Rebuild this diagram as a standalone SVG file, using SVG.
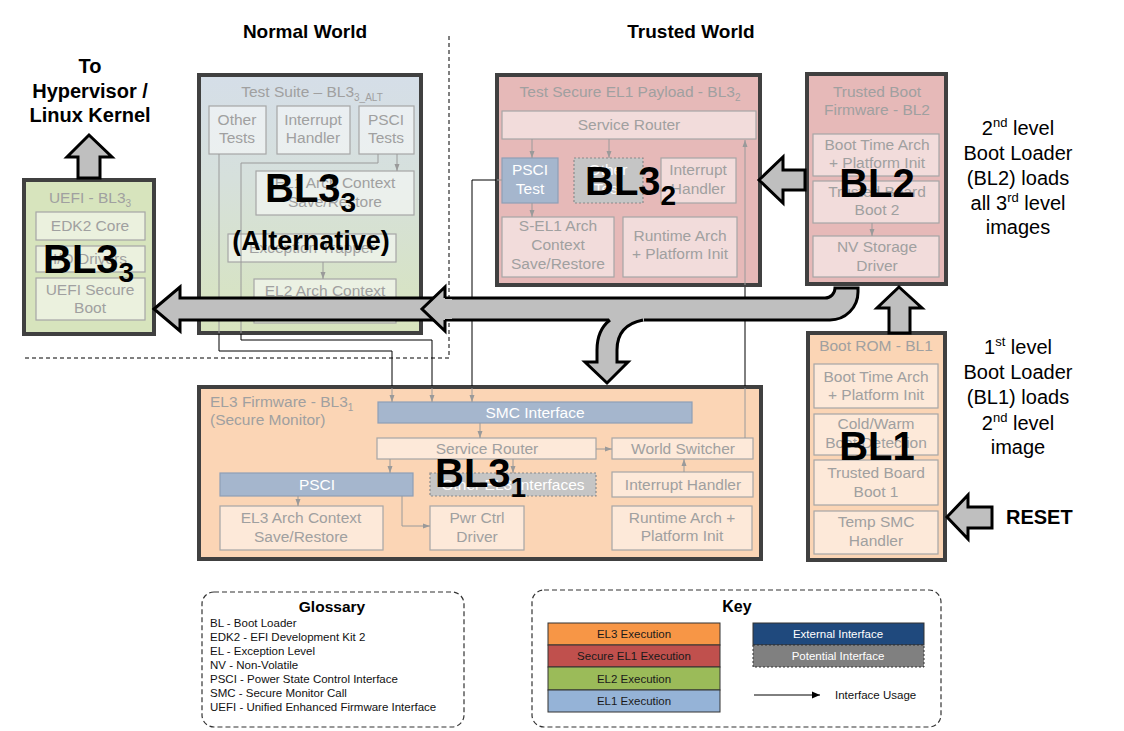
<svg xmlns="http://www.w3.org/2000/svg" width="1124" height="731" viewBox="0 0 1124 731">
<defs>
<style>
text{font-family:"Liberation Sans",Arial,Helvetica,sans-serif}
.o{stroke:#404040;stroke-width:4}
.i{stroke:#a6a6a6;stroke-width:1.2}
.pk{fill:#f2dcdb}
.pc{fill:#fde9d9}
.gn{fill:#ebf1de}
.ts{fill:#fff;fill-opacity:.5}
.bx{fill:#a5b6cd;stroke:#8e9fb6;stroke-width:1.2}
.dt{fill:#c5c5c5;stroke:#8a8a8a;stroke-width:1.2;stroke-dasharray:2 2}
.t{font-size:15.5px;fill:#a0a0a0;text-anchor:middle}
.w{fill:#fff}
.big{font-size:40px;font-weight:bold;fill:#000}
.gl{fill:none;stroke:#9a9a9a;stroke-width:1}
.bl{fill:none;stroke:#000;stroke-width:1}
.fa{fill:#bfbfbf;stroke:#000;stroke-width:3;stroke-linejoin:miter}
.hd{font-size:20px;font-weight:bold;fill:#000;text-anchor:middle}
.sd{font-size:20px;fill:#000;text-anchor:middle}
.sm{font-size:11.5px;fill:#111}
.kt{font-size:11.5px;fill:#1a1a1a;text-anchor:middle}
.dash{fill:none;stroke:#333;stroke-width:1.2;stroke-dasharray:5 3}
</style>
<linearGradient id="tsg" x1="0" y1="0" x2="0" y2="1">
<stop offset="0" stop-color="#d5dee8"/>
<stop offset="0.4" stop-color="#d6e0dc"/>
<stop offset="1" stop-color="#d7e4bd"/>
</linearGradient>
<marker id="ag" viewBox="0 0 7 6" refX="7" refY="3" markerWidth="7" markerHeight="6" orient="auto" markerUnits="userSpaceOnUse">
<path d="M0,0.5 L7,3 L0,5.5 Z" fill="#9a9a9a"/>
</marker>
<marker id="ab" viewBox="0 0 8 8" refX="8" refY="4" markerWidth="8" markerHeight="8" orient="auto" markerUnits="userSpaceOnUse">
<path d="M0,0.5 L8,4 L0,7.5 Z" fill="#000"/>
</marker>
</defs>
<rect width="1124" height="731" fill="#fff"/>

<!-- world separator -->
<g id="separator">
<path d="M449 36 V358 H22" fill="none" stroke="#000" stroke-width="1" stroke-dasharray="4 3"/>
<text x="305" y="38" font-size="19" font-weight="bold" text-anchor="middle">Normal World</text>
<text x="691" y="38" font-size="19" font-weight="bold" text-anchor="middle">Trusted World</text>
</g>

<!-- UEFI BL3_3 -->
<g id="uefi">
<rect x="24" y="180" width="130" height="154" fill="#d7e4bd" class="o"/>
<text class="t" x="90" y="203">UEFI - BL3<tspan font-size="10" dy="4">3</tspan></text>
<rect x="36" y="212" width="109" height="28" class="gn i"/>
<rect x="36" y="246" width="109" height="26" class="gn i"/>
<rect x="36" y="278" width="109" height="42" class="gn i"/>
<text class="t" x="90" y="231">EDK2 Core</text>
<text class="t" x="90" y="264">I/O Drivers</text>
<text class="t" x="90" y="295">UEFI Secure</text>
<text class="t" x="90" y="313">Boot</text>
<text class="big" x="43" y="273">BL3<tspan font-size="28" dy="9">3</tspan></text>
</g>

<!-- Test Suite BL3_3 ALT -->
<g id="testsuite">
<rect x="199" y="75" width="222" height="258" fill="url(#tsg)" class="o"/>
<text class="t" x="312" y="97">Test Suite – BL3<tspan font-size="10" dy="4">3_ALT</tspan></text>
<rect x="209" y="106" width="57" height="48" class="ts i"/>
<rect x="277" y="106" width="73" height="48" class="ts i"/>
<rect x="359" y="106" width="55" height="48" class="ts i"/>
<rect x="256" y="171" width="158" height="44" class="ts i"/>
<rect x="228" y="234" width="168" height="28" class="ts i"/>
<rect x="254" y="279" width="142" height="44" class="ts i"/>
<text class="t" x="237" y="125">Other</text>
<text class="t" x="237" y="143">Tests</text>
<text class="t" x="313" y="125">Interrupt</text>
<text class="t" x="313" y="143">Handler</text>
<text class="t" x="386" y="125">PSCI</text>
<text class="t" x="386" y="143">Tests</text>
<text class="t" x="335" y="188">EL1 Arch Context</text>
<text class="t" x="335" y="207">Save/Restore</text>
<text class="t" x="312" y="253">Exception Trapper</text>
<text class="t" x="325" y="296">EL2 Arch Context</text>
<text class="big" x="265" y="202">BL3<tspan font-size="28" dy="10">3</tspan></text>
<text x="311" y="250" font-size="27" font-weight="bold" text-anchor="middle">(Alternative)</text>
</g>

<!-- Test Secure EL1 Payload BL3_2 -->
<g id="bl32">
<rect x="497" y="75" width="263" height="210" fill="#e6b9b8" class="o"/>
<text class="t" x="630" y="97">Test Secure EL1 Payload - BL3<tspan font-size="10" dy="4">2</tspan></text>
<rect x="502" y="111" width="254" height="28" class="pk i"/>
<text class="t" x="629" y="130">Service Router</text>
<rect x="502" y="158" width="56" height="45" class="bx"/>
<text class="t w" x="530" y="175">PSCI</text>
<text class="t w" x="530" y="194">Test</text>
<rect x="574" y="158" width="69" height="45" class="dt"/>
<text class="t w" x="608" y="175">Other</text>
<text class="t w" x="608" y="194">Test</text>
<rect x="661" y="158" width="75" height="45" class="pk i"/>
<text class="t" x="698" y="175">Interrupt</text>
<text class="t" x="698" y="194">Handler</text>
<rect x="502" y="217" width="112" height="60" class="pk i"/>
<text class="t" x="558" y="231">S-EL1 Arch</text>
<text class="t" x="558" y="250">Context</text>
<text class="t" x="558" y="269">Save/Restore</text>
<rect x="623" y="217" width="114" height="60" class="pk i"/>
<text class="t" x="680" y="241">Runtime Arch</text>
<text class="t" x="680" y="259">+ Platform Init</text>
<text class="big" x="585" y="195">BL3<tspan font-size="28" dy="10">2</tspan></text>
</g>

<!-- Trusted Boot Firmware BL2 -->
<g id="bl2">
<rect x="807" y="74" width="139" height="210" fill="#e6b9b8" class="o"/>
<text class="t" x="877" y="97">Trusted Boot</text>
<text class="t" x="877" y="115">Firmware - BL2</text>
<rect x="813" y="134" width="126" height="42" class="pk i"/>
<rect x="813" y="181" width="126" height="42" class="pk i"/>
<rect x="813" y="236" width="126" height="41" class="pk i"/>
<text class="t" x="877" y="150">Boot Time Arch</text>
<text class="t" x="877" y="168">+ Platform Init</text>
<text class="t" x="877" y="197">Trusted Board</text>
<text class="t" x="877" y="215">Boot 2</text>
<text class="t" x="877" y="252">NV Storage</text>
<text class="t" x="877" y="271">Driver</text>
<text class="big" x="877" y="197" text-anchor="middle">BL2</text>
</g>

<!-- Boot ROM BL1 -->
<g id="bl1">
<rect x="808" y="333" width="137" height="227" fill="#fbd5b5" class="o"/>
<text class="t" x="876" y="351">Boot ROM - BL1</text>
<rect x="814" y="364" width="124" height="44" class="pc i"/>
<rect x="814" y="414" width="124" height="41" class="pc i"/>
<rect x="814" y="460" width="124" height="45" class="pc i"/>
<rect x="814" y="511" width="124" height="43" class="pc i"/>
<text class="t" x="876" y="382">Boot Time Arch</text>
<text class="t" x="876" y="400">+ Platform Init</text>
<text class="t" x="876" y="429">Cold/Warm</text>
<text class="t" x="876" y="448">Boot Detection</text>
<text class="t" x="876" y="478">Trusted Board</text>
<text class="t" x="876" y="497">Boot 1</text>
<text class="t" x="876" y="527">Temp SMC</text>
<text class="t" x="876" y="546">Handler</text>
<text class="big" x="877" y="460" text-anchor="middle">BL1</text>
</g>

<!-- EL3 Firmware BL3_1 -->
<g id="bl31">
<rect x="199" y="387" width="562" height="172" fill="#fbd5b5" class="o"/>
<text class="t" x="210" y="407" text-anchor="start" style="text-anchor:start">EL3 Firmware - BL3<tspan font-size="10" dy="4">1</tspan></text>
<text class="t" x="210" y="425" style="text-anchor:start">(Secure Monitor)</text>
<rect x="378" y="402" width="314" height="21" class="bx"/>
<text class="t w" x="535" y="418">SMC Interface</text>
<rect x="377" y="438" width="219" height="21" class="pc i"/>
<text class="t" x="487" y="454">Service Router</text>
<rect x="612" y="438" width="141" height="21" class="pc i"/>
<text class="t" x="683" y="454">World Switcher</text>
<rect x="220" y="473" width="193" height="23" class="bx"/>
<text class="t w" x="317" y="490">PSCI</text>
<rect x="430" y="473" width="166" height="23" class="dt"/>
<text class="t w" x="513" y="490">Other EL3 Interfaces</text>
<rect x="612" y="472" width="141" height="25" class="pc i"/>
<text class="t" x="683" y="490">Interrupt Handler</text>
<rect x="220" y="506" width="163" height="44" class="pc i"/>
<text class="t" x="301" y="523">EL3 Arch Context</text>
<text class="t" x="301" y="542">Save/Restore</text>
<rect x="430" y="506" width="94" height="44" class="pc i"/>
<text class="t" x="477" y="523">Pwr Ctrl</text>
<text class="t" x="477" y="542">Driver</text>
<rect x="612" y="506" width="140" height="44" class="pc i"/>
<text class="t" x="682" y="523">Runtime Arch +</text>
<text class="t" x="682" y="541">Platform Init</text>
<text class="big" x="435" y="487">BL3<tspan font-size="28" dy="10">1</tspan></text>
</g>

<!-- connectors -->
<g id="connectors">
<polyline class="bl" points="219,334 219,351 392,351 392,386"/>
<polyline class="bl" points="241,334 241,340 432,340 432,386"/>
<polyline class="bl" points="496,180 472,180 472,386"/>
<line class="bl" x1="745" y1="287" x2="745" y2="386"/>
<line class="gl" x1="219" y1="154" x2="219" y2="333"/>
<polyline class="gl" points="378,154 378,163 241,163 241,333"/>
<line class="gl" x1="397" y1="154" x2="397" y2="171" marker-end="url(#ag)"/>
<line class="gl" x1="323" y1="262" x2="323" y2="279" marker-end="url(#ag)"/>
<line class="gl" x1="502" y1="180" x2="497" y2="180"/>
<line class="gl" x1="532" y1="139" x2="532" y2="158" marker-end="url(#ag)"/>
<line class="gl" x1="609" y1="139" x2="609" y2="158" marker-end="url(#ag)"/>
<line class="gl" x1="532" y1="203" x2="532" y2="217" marker-end="url(#ag)"/>
<line class="gl" x1="745" y1="285" x2="745" y2="140" marker-end="url(#ag)"/>
<line class="gl" x1="872" y1="223" x2="872" y2="236" marker-end="url(#ag)"/>
<line class="gl" x1="392" y1="388" x2="392" y2="402" marker-end="url(#ag)"/>
<line class="gl" x1="432" y1="388" x2="432" y2="402" marker-end="url(#ag)"/>
<line class="gl" x1="472" y1="388" x2="472" y2="402" marker-end="url(#ag)"/>
<line class="gl" x1="745" y1="438" x2="745" y2="388"/>
<line class="gl" x1="480" y1="423" x2="480" y2="438" marker-end="url(#ag)"/>
<line class="gl" x1="596" y1="449" x2="612" y2="449" marker-end="url(#ag)"/>
<line class="gl" x1="390" y1="459" x2="390" y2="473" marker-end="url(#ag)"/>
<line class="gl" x1="513" y1="459" x2="513" y2="473" marker-end="url(#ag)"/>
<line class="gl" x1="684" y1="472" x2="684" y2="459" marker-end="url(#ag)"/>
<line class="gl" x1="298" y1="496" x2="298" y2="506" marker-end="url(#ag)"/>
<polyline class="gl" points="402,496 402,526 430,526" marker-end="url(#ag)"/>
</g>

<!-- block flow arrows -->
<g id="flow-arrows">
<path class="fa" d="M154 309 L180 287 L180 298 L825 298 A10 10 0 0 0 835 288 L858 288 L858 292 A28 28 0 0 1 830 320 L180 320 L180 331 Z"/>
<path d="M422 309 L445 287 L445 331 Z M445 299 H452 V319 H445 Z" fill="#bfbfbf"/>
<polyline points="445,298 445,287 422,309 445,331 445,320" fill="none" stroke="#000" stroke-width="3"/>
<path d="M610 319 Q597 330 597 350 L597 362 L585 362 L607 383 L628 362 L617 362 L617 350 Q617 325 643 319 Z" fill="#bfbfbf"/>
<rect x="609" y="316" width="35" height="6" fill="#bfbfbf"/>
<path d="M610 320 Q597 330 597 350 L597 362 L585 362 L607 383 L628 362 L617 362 L617 350 Q617 325 643 320" fill="none" stroke="#000" stroke-width="3"/>
<path class="fa" d="M759 180 L783 157 L783 170 L805 170 L805 190 L783 190 L783 203 Z"/>
<path class="fa" d="M899 287 L922 308 L910 308 L910 333 L889 333 L889 308 L877 308 Z"/>
<path class="fa" d="M89 135 L112 157 L100 157 L100 178 L78 178 L78 157 L67 157 Z"/>
<path class="fa" d="M947 517 L968 495 L968 507 L992 507 L992 528 L968 528 L968 539 Z"/>
</g>

<!-- annotations -->
<g id="annotations">
<text class="hd" x="90" y="73">To</text>
<text class="hd" x="90" y="98">Hypervisor /</text>
<text class="hd" x="90" y="122">Linux Kernel</text>
<text class="sd" x="1018" y="135">2<tspan font-size="13" dy="-8">nd</tspan><tspan dy="8"> level</tspan></text>
<text class="sd" x="1018" y="160">Boot Loader</text>
<text class="sd" x="1018" y="185">(BL2) loads</text>
<text class="sd" x="1018" y="210">all 3<tspan font-size="13" dy="-8">rd</tspan><tspan dy="8"> level</tspan></text>
<text class="sd" x="1018" y="234">images</text>
<text class="sd" x="1018" y="354">1<tspan font-size="13" dy="-8">st</tspan><tspan dy="8"> level</tspan></text>
<text class="sd" x="1018" y="379">Boot Loader</text>
<text class="sd" x="1018" y="404">(BL1) loads</text>
<text class="sd" x="1018" y="430">2<tspan font-size="13" dy="-8">nd</tspan><tspan dy="8"> level</tspan></text>
<text class="sd" x="1018" y="454">image</text>
<text x="1006" y="524" font-size="20" font-weight="bold">RESET</text>
</g>

<!-- glossary -->
<g id="glossary">
<rect x="202" y="592" width="262" height="135" rx="12" class="dash"/>
<text x="332" y="612" font-size="15.5" font-weight="bold" text-anchor="middle">Glossary</text>
<text class="sm" x="210" y="627">BL - Boot Loader</text>
<text class="sm" x="210" y="641">EDK2 - EFI Development Kit 2</text>
<text class="sm" x="210" y="655">EL - Exception Level</text>
<text class="sm" x="210" y="669">NV - Non-Volatile</text>
<text class="sm" x="210" y="683">PSCI - Power State Control Interface</text>
<text class="sm" x="210" y="697">SMC - Secure Monitor Call</text>
<text class="sm" x="210" y="711">UEFI - Unified Enhanced Firmware Interface</text>
</g>

<!-- key -->
<g id="key">
<rect x="532" y="590" width="409" height="137" rx="12" class="dash"/>
<text x="737" y="612" font-size="16" font-weight="bold" text-anchor="middle">Key</text>
<rect x="548" y="623" width="172" height="22" fill="#f79646" stroke="#333" stroke-width="1"/>
<rect x="548" y="645" width="172" height="22" fill="#c0504d" stroke="#333" stroke-width="1"/>
<rect x="548" y="667" width="172" height="23" fill="#9bbb59" stroke="#333" stroke-width="1"/>
<rect x="548" y="690" width="172" height="22" fill="#95b3d7" stroke="#333" stroke-width="1"/>
<text class="kt" x="634" y="638">EL3 Execution</text>
<text class="kt" x="634" y="660">Secure EL1 Execution</text>
<text class="kt" x="634" y="683">EL2 Execution</text>
<text class="kt" x="634" y="705">EL1 Execution</text>
<rect x="753" y="623" width="171" height="22" fill="#1f497d" stroke="#333" stroke-width="1"/>
<rect x="753" y="645" width="171" height="22" fill="#808080" stroke="#333" stroke-width="1" stroke-dasharray="2 2"/>
<text class="kt" x="838" y="638" fill="#fff" style="fill:#fff">External Interface</text>
<text class="kt" x="838" y="660" style="fill:#fff">Potential Interface</text>
<line x1="754" y1="695" x2="820" y2="695" stroke="#000" stroke-width="1" marker-end="url(#ab)"/>
<text class="sm" x="835" y="699">Interface Usage</text>
</g>
</svg>
